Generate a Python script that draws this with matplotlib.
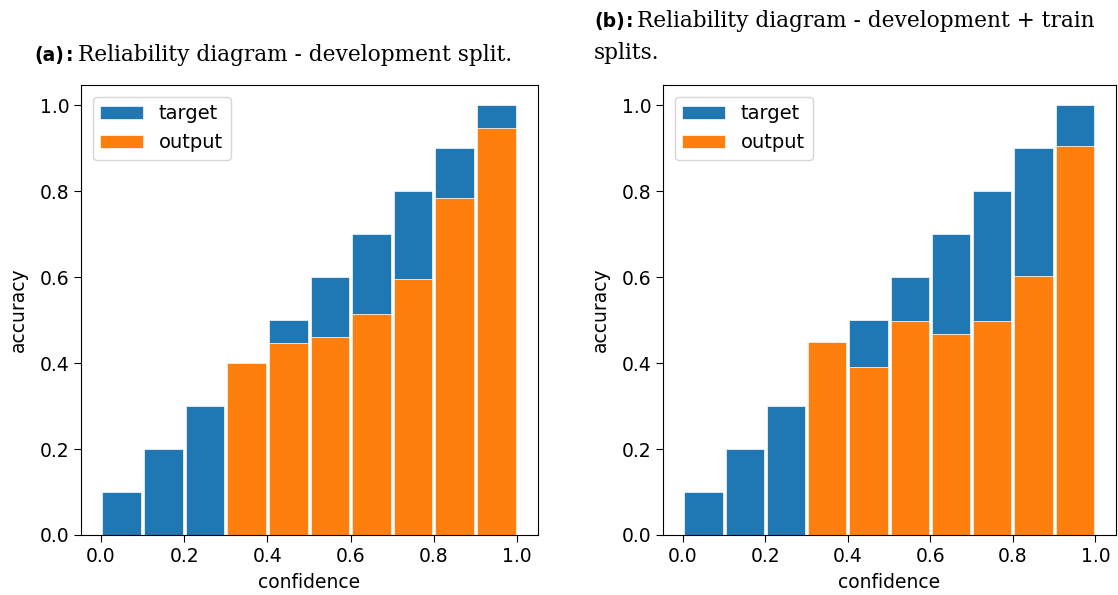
import matplotlib
matplotlib.use("Agg")
import matplotlib.pyplot as plt
import numpy as np

# reliability bins (upper edge = target accuracy)
bin_centers = [0.05, 0.15, 0.25, 0.35, 0.45, 0.55, 0.65, 0.75, 0.85, 0.95]
target = [0.1, 0.2, 0.3, 0.4, 0.5, 0.6, 0.7, 0.8, 0.9, 1.0]
output_dev = [0.0, 0.0, 0.0, 0.400, 0.446, 0.460, 0.514, 0.596, 0.784, 0.947]
output_dev_train = [0.0, 0.0, 0.0, 0.449, 0.391, 0.497, 0.467, 0.497, 0.603, 0.906]

W, H = 1118, 595
fig = plt.figure(figsize=(W / 100, H / 100), dpi=100)
FS = 13.5


def px_axes(left, top, right, bottom):
    return fig.add_axes([left / W, 1 - bottom / H, (right - left) / W, (bottom - top) / H])


def draw(ax, out):
    ax.bar(bin_centers, target, width=0.093, color="#1f77b4", edgecolor="#e8f0f8",
           linewidth=0.6, label="target")
    ax.bar(bin_centers, out, width=0.093, color="#ff7f0e", edgecolor="#fff0e0",
           linewidth=0.6, label="output")
    ax.set_xlim(-0.048, 1.05)
    ax.set_ylim(0, 1.047)
    ax.set_xticks([0.0, 0.2, 0.4, 0.6, 0.8, 1.0])
    ax.set_yticks([0.0, 0.2, 0.4, 0.6, 0.8, 1.0])
    ax.tick_params(labelsize=FS, length=5)
    ax.set_xlabel("confidence", fontsize=FS, labelpad=5)
    ax.set_ylabel("accuracy", fontsize=FS, labelpad=8)
    ax.legend(loc="upper left", fontsize=14, handlelength=2.2, borderaxespad=0.6)


ax1 = px_axes(81, 85, 538, 535)
draw(ax1, output_dev)
ax2 = px_axes(663, 85, 1116, 535)
draw(ax2, output_dev_train)

serif = dict(family="DejaVu Serif", fontsize=15.6, va="baseline")
bold = dict(family="DejaVu Sans", fontweight="bold", fontsize=13.5, va="baseline")

fig.text(34 / W, 1 - 61 / H, "(a)", **bold)
fig.text(66 / W, 1 - 61 / H, ":", **bold)
fig.text(78 / W, 1 - 61 / H, "Reliability diagram - development split.", **serif)
fig.text(594 / W, 1 - 27 / H, "(b)", **bold)
fig.text(626 / W, 1 - 27 / H, ":", **bold)
fig.text(637 / W, 1 - 27 / H, "Reliability diagram - development + train", **serif)
fig.text(594 / W, 1 - 59 / H, "splits.", **serif)

fig.savefig("out.png", dpi=100)
